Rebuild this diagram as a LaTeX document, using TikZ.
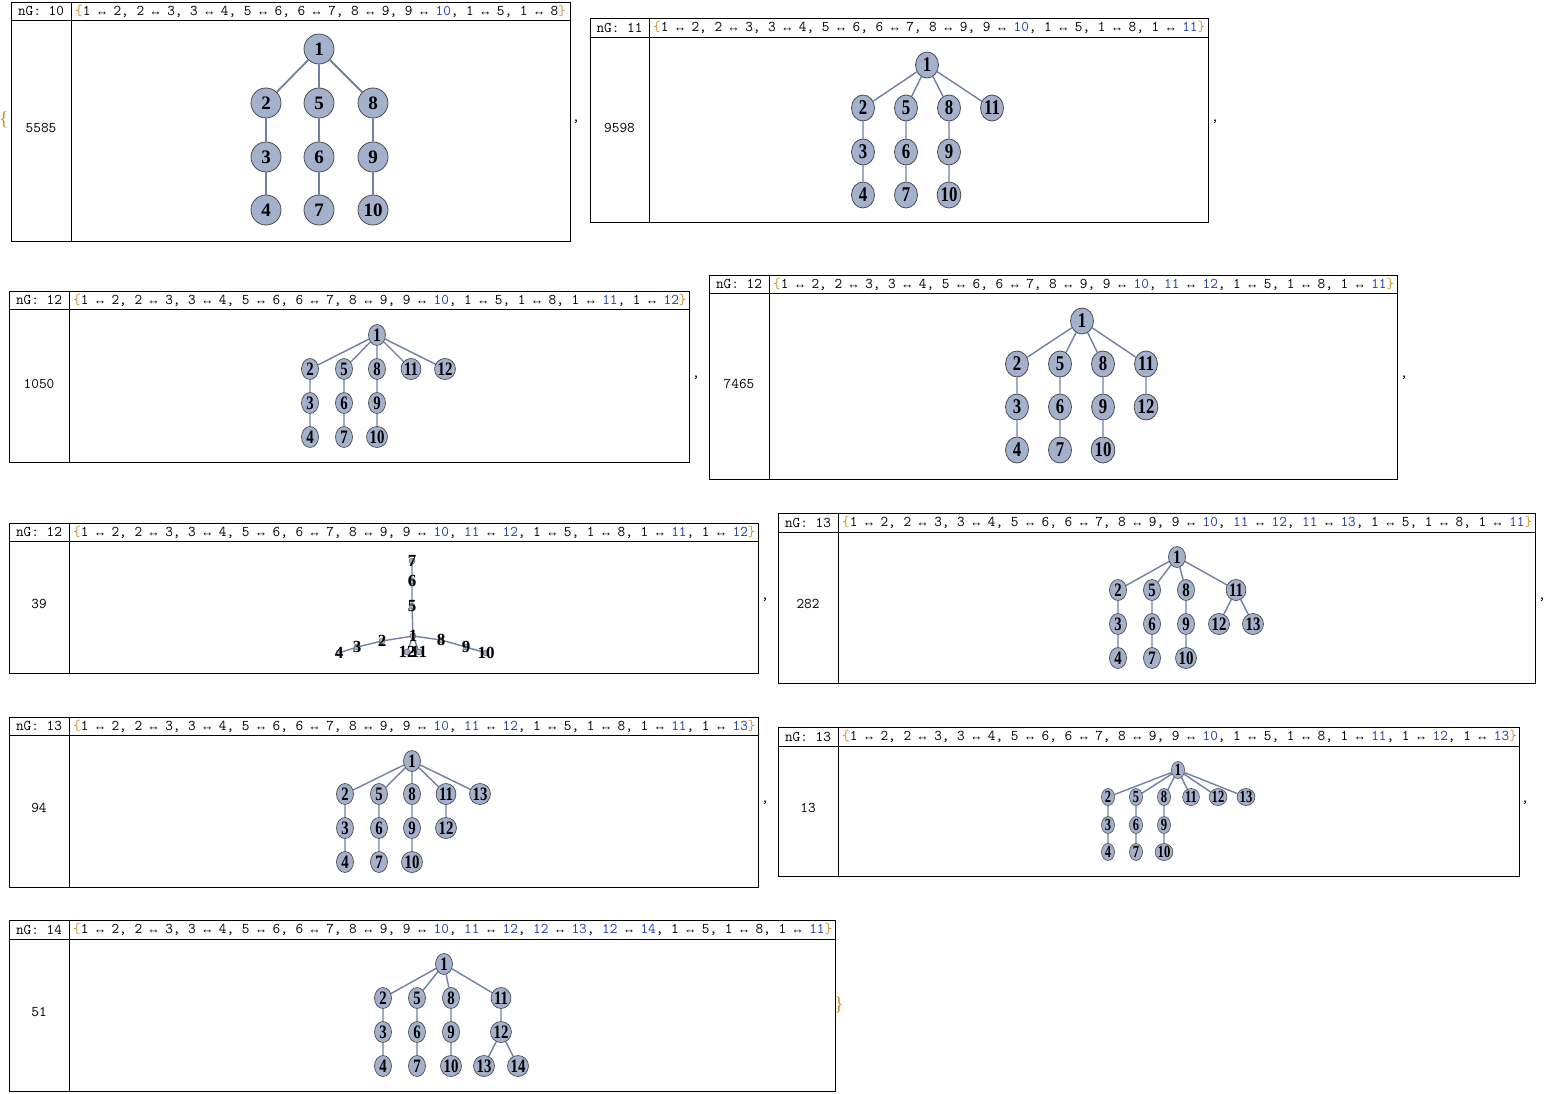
\documentclass[tikz,border=0pt]{standalone}
\usepackage{fontspec}
\usetikzlibrary{shapes.geometric,backgrounds}
\newfontfamily\arfont{Liberation Mono}
\newfontfamily\vfont{Liberation Serif}
\newfontfamily\vfontn[FakeStretch=0.8]{Liberation Serif}
\newfontfamily\vfontc[FakeStretch=0.78]{Liberation Serif}
\newfontfamily\vfonts[FakeStretch=0.74]{Liberation Serif}
\definecolor{vfill}{RGB}{163,177,204}
\definecolor{vline}{RGB}{75,75,75}
\definecolor{ecol}{RGB}{112,128,162}
\definecolor{numblue}{RGB}{35,60,165}
\definecolor{brace}{RGB}{205,145,45}
\newcommand\bl[1]{\textcolor{numblue}{#1}}
\newcommand\lb{\textcolor{brace}{\{}}
\newcommand\rb{\textcolor{brace}{\}}}
\newcommand\ar{\makebox[0.525em]{\arfont\fontsize{12.5}{12}\selectfont ↔}}

\begin{document}
\begin{tikzpicture}[x=1pt,y=-1pt,
frm/.style={draw=black,line width=0.8pt},
hdr/.style={font=\ttfamily\fontsize{14.85}{15}\selectfont,inner sep=0pt},
lst/.style={hdr,anchor=west},
vbig/.style={circle,draw=vline,fill=vfill,line width=0.8pt,minimum size=30pt,inner sep=0pt,font=\vfont\bfseries\fontsize{19}{19}\selectfont},
vmid/.style={ellipse,draw=vline,fill=vfill,line width=0.8pt,minimum width=23pt,minimum height=26pt,inner sep=0pt,font=\vfontn\bfseries\fontsize{21}{21}\selectfont},
vsml/.style={ellipse,draw=vline,fill=vfill,line width=0.7pt,minimum width=17pt,minimum height=21pt,inner sep=0pt,font=\vfontc\bfseries\fontsize{19}{19}\selectfont},
vtny/.style={ellipse,draw=vline,fill=vfill,line width=0.6pt,minimum width=13pt,minimum height=17pt,inner sep=0pt,font=\vfonts\bfseries\fontsize{17}{17}\selectfont},
vdot/.style={circle,draw=vline,fill=vfill,line width=0.4pt,minimum size=6pt,inner sep=0pt,
  label={[inner sep=0pt,font=\vfont\bfseries\fontsize{17}{17}\selectfont]center:#1}},
ed/.style={draw=ecol,line width=1.8pt},
edm/.style={draw=ecol,line width=1.4pt},
sep/.style={font=\ttfamily\fontsize{15}{15}\selectfont,inner sep=0pt}]
\useasboundingbox (0,0) rectangle (1547,1094);

% frames
\draw[frm] (11,2) rectangle (570,241) (11,20)--(570,20) (71,2)--(71,241);
\draw[frm] (590,18) rectangle (1208,222) (590,37)--(1208,37) (649,18)--(649,222);
\draw[frm] (9,291) rectangle (689,462) (9,309)--(689,309) (69,291)--(69,462);
\draw[frm] (709,275) rectangle (1397,479) (709,293)--(1397,293) (769,275)--(769,479);
\draw[frm] (9,523) rectangle (758,673) (9,541)--(758,541) (69,523)--(69,673);
\draw[frm] (778,513) rectangle (1535,683) (778,532)--(1535,532) (838,513)--(838,683);
\draw[frm] (9,717) rectangle (758,887) (9,735)--(758,735) (69,717)--(69,887);
\draw[frm] (778,727) rectangle (1519,876) (778,746)--(1519,746) (838,727)--(838,876);
\draw[frm] (9,920) rectangle (835,1091) (9,939)--(835,939) (69,920)--(69,1091);

% headers and counts
\node[hdr] (ng1) at (41,11) {nG: 10};
\node[lst] (el1) at (75,11) {\lb1 \ar{} 2, 2 \ar{} 3, 3 \ar{} 4, 5 \ar{} 6, 6 \ar{} 7, 8 \ar{} 9, 9 \ar{} \bl{10}, 1 \ar{} 5, 1 \ar{} 8\rb};
\node[hdr] (ct1) at (41,128) {5585};
\node[hdr] (ng2) at (619.5,27.5) {nG: 11};
\node[lst] (el2) at (653,27.5) {\lb1 \ar{} 2, 2 \ar{} 3, 3 \ar{} 4, 5 \ar{} 6, 6 \ar{} 7, 8 \ar{} 9, 9 \ar{} \bl{10}, 1 \ar{} 5, 1 \ar{} 8, 1 \ar{} \bl{11}\rb};
\node[hdr] (ct2) at (619.5,128) {9598};
\node[hdr] (ng3) at (39,300) {nG: 12};
\node[lst] (el3) at (73,300) {\lb1 \ar{} 2, 2 \ar{} 3, 3 \ar{} 4, 5 \ar{} 6, 6 \ar{} 7, 8 \ar{} 9, 9 \ar{} \bl{10}, 1 \ar{} 5, 1 \ar{} 8, 1 \ar{} \bl{11}, 1 \ar{} \bl{12}\rb};
\node[hdr] (ct3) at (39,384) {1050};
\node[hdr] (ng4) at (739,284) {nG: 12};
\node[lst] (el4) at (773,284) {\lb1 \ar{} 2, 2 \ar{} 3, 3 \ar{} 4, 5 \ar{} 6, 6 \ar{} 7, 8 \ar{} 9, 9 \ar{} \bl{10}, \bl{11} \ar{} \bl{12}, 1 \ar{} 5, 1 \ar{} 8, 1 \ar{} \bl{11}\rb};
\node[hdr] (ct4) at (739,384) {7465};
\node[hdr] (ng5) at (39,532) {nG: 12};
\node[lst] (el5) at (73,532) {\lb1 \ar{} 2, 2 \ar{} 3, 3 \ar{} 4, 5 \ar{} 6, 6 \ar{} 7, 8 \ar{} 9, 9 \ar{} \bl{10}, \bl{11} \ar{} \bl{12}, 1 \ar{} 5, 1 \ar{} 8, 1 \ar{} \bl{11}, 1 \ar{} \bl{12}\rb};
\node[hdr] (ct5) at (39,604) {39};
\node[hdr] (ng6) at (808,522.5) {nG: 13};
\node[lst] (el6) at (842,522.5) {\lb1 \ar{} 2, 2 \ar{} 3, 3 \ar{} 4, 5 \ar{} 6, 6 \ar{} 7, 8 \ar{} 9, 9 \ar{} \bl{10}, \bl{11} \ar{} \bl{12}, \bl{11} \ar{} \bl{13}, 1 \ar{} 5, 1 \ar{} 8, 1 \ar{} \bl{11}\rb};
\node[hdr] (ct6) at (808,604) {282};
\node[hdr] (ng7) at (39,726) {nG: 13};
\node[lst] (el7) at (73,726) {\lb1 \ar{} 2, 2 \ar{} 3, 3 \ar{} 4, 5 \ar{} 6, 6 \ar{} 7, 8 \ar{} 9, 9 \ar{} \bl{10}, \bl{11} \ar{} \bl{12}, 1 \ar{} 5, 1 \ar{} 8, 1 \ar{} \bl{11}, 1 \ar{} \bl{13}\rb};
\node[hdr] (ct7) at (39,808) {94};
\node[hdr] (ng8) at (808,736.5) {nG: 13};
\node[lst] (el8) at (842,736.5) {\lb1 \ar{} 2, 2 \ar{} 3, 3 \ar{} 4, 5 \ar{} 6, 6 \ar{} 7, 8 \ar{} 9, 9 \ar{} \bl{10}, 1 \ar{} 5, 1 \ar{} 8, 1 \ar{} \bl{11}, 1 \ar{} \bl{12}, 1 \ar{} \bl{13}\rb};
\node[hdr] (ct8) at (808,808) {13};
\node[hdr] (ng9) at (39,929.5) {nG: 14};
\node[lst] (el9) at (73,929.5) {\lb1 \ar{} 2, 2 \ar{} 3, 3 \ar{} 4, 5 \ar{} 6, 6 \ar{} 7, 8 \ar{} 9, 9 \ar{} \bl{10}, \bl{11} \ar{} \bl{12}, \bl{12} \ar{} \bl{13}, \bl{12} \ar{} \bl{14}, 1 \ar{} 5, 1 \ar{} 8, 1 \ar{} \bl{11}\rb};
\node[hdr] (ct9) at (39,1012) {51};

% outer list punctuation
\node[sep,text=brace,font=\vfont\fontsize{20}{20}\selectfont] (open) at (4,120) {\{};
\node[sep] (c1) at (576,122) {,};
\node[sep] (c2) at (1215,122) {,};
\node[sep] (c3) at (696,378) {,};
\node[sep] (c4) at (1404,378) {,};
\node[sep] (c5) at (765,600) {,};
\node[sep] (c6) at (1542,600) {,};
\node[sep] (c7) at (765,803) {,};
\node[sep] (c8) at (1525,803) {,};
\node[sep,text=brace,font=\vfont\fontsize{20}{20}\selectfont] (close) at (839,1005) {\}};

% graph 5585
\node[vbig] (A1) at (319,49) {1};
\node[vbig] (A2) at (266,103) {2}; \node[vbig] (A5) at (319,103) {5}; \node[vbig] (A8) at (373,103) {8};
\node[vbig] (A3) at (266,157) {3}; \node[vbig] (A6) at (319,157) {6}; \node[vbig] (A9) at (373,157) {9};
\node[vbig] (A4) at (266,210) {4}; \node[vbig] (A7) at (319,210) {7}; \node[vbig] (A10) at (373,210) {10};

% graph 9598
\node[vmid] (B1) at (927,65) {1};
\node[vmid] (B2) at (863,108) {2}; \node[vmid] (B5) at (906,108) {5}; \node[vmid] (B8) at (949,108) {8}; \node[vmid] (B11) at (992,108) {11};
\node[vmid] (B3) at (863,152) {3}; \node[vmid] (B6) at (906,152) {6}; \node[vmid] (B9) at (949,152) {9};
\node[vmid] (B4) at (863,195) {4}; \node[vmid] (B7) at (906,195) {7}; \node[vmid] (B10) at (949,195) {10};

% graph 1050
\node[vsml] (C1) at (377,335) {1};
\node[vsml] (C2) at (310,369) {2}; \node[vsml] (C5) at (344,369) {5}; \node[vsml] (C8) at (377,369) {8};
\node[vsml] (C11) at (411,369) {11}; \node[vsml] (C12) at (445,369) {12};
\node[vsml] (C3) at (310,403) {3}; \node[vsml] (C6) at (344,403) {6}; \node[vsml] (C9) at (377,403) {9};
\node[vsml] (C4) at (310,437) {4}; \node[vsml] (C7) at (344,437) {7}; \node[vsml] (C10) at (377,437) {10};

% graph 7465
\node[vmid] (D1) at (1082,321) {1};
\node[vmid] (D2) at (1017,364) {2}; \node[vmid] (D5) at (1060,364) {5}; \node[vmid] (D8) at (1103,364) {8}; \node[vmid] (D11) at (1146,364) {11};
\node[vmid] (D3) at (1017,407) {3}; \node[vmid] (D6) at (1060,407) {6}; \node[vmid] (D9) at (1103,407) {9}; \node[vmid] (D12) at (1146,407) {12};
\node[vmid] (D4) at (1017,450) {4}; \node[vmid] (D7) at (1060,450) {7}; \node[vmid] (D10) at (1103,450) {10};

% graph 39 (collapsed layout)
\node[vdot=7] (E7) at (412,561) {};
\node[vdot=6] (E6) at (412,581) {};
\node[vdot=5] (E5) at (412,606) {};
\node[vdot=1] (E1) at (413,636) {};
\node[vdot=2] (E2) at (382,641) {};
\node[vdot=3] (E3) at (357,647) {};
\node[vdot=4] (E4) at (339,653) {};
\node[vdot=8] (E8) at (441,640) {};
\node[vdot=9] (E9) at (466,647) {};
\node[vdot=10] (E10) at (486,653) {};
\node[vdot=12] (E12) at (407,652) {};
\node[vdot=11] (E11) at (419,652) {};

% graph 282
\node[vsml] (F1) at (1177,557) {1};
\node[vsml] (F2) at (1118,590) {2}; \node[vsml] (F5) at (1152,590) {5}; \node[vsml] (F8) at (1186,590) {8}; \node[vsml] (F11) at (1236,590) {11};
\node[vsml] (F3) at (1118,624) {3}; \node[vsml] (F6) at (1152,624) {6}; \node[vsml] (F9) at (1186,624) {9};
\node[vsml] (F12) at (1219,624) {12}; \node[vsml] (F13) at (1253,624) {13};
\node[vsml] (F4) at (1118,658) {4}; \node[vsml] (F7) at (1152,658) {7}; \node[vsml] (F10) at (1186,658) {10};

% graph 94
\node[vsml] (G1) at (412,761) {1};
\node[vsml] (G2) at (345,794) {2}; \node[vsml] (G5) at (379,794) {5}; \node[vsml] (G8) at (412,794) {8};
\node[vsml] (G11) at (446,794) {11}; \node[vsml] (G13) at (480,794) {13};
\node[vsml] (G3) at (345,828) {3}; \node[vsml] (G6) at (379,828) {6}; \node[vsml] (G9) at (412,828) {9}; \node[vsml] (G12) at (446,828) {12};
\node[vsml] (G4) at (345,862) {4}; \node[vsml] (G7) at (379,862) {7}; \node[vsml] (G10) at (412,862) {10};

% graph 13
\node[vtny] (H1) at (1178,770) {1};
\node[vtny] (H2) at (1108,797) {2}; \node[vtny] (H5) at (1136,797) {5}; \node[vtny] (H8) at (1164,797) {8};
\node[vtny] (H11) at (1191,797) {11}; \node[vtny] (H12) at (1218,797) {12}; \node[vtny] (H13) at (1246,797) {13};
\node[vtny] (H3) at (1108,825) {3}; \node[vtny] (H6) at (1136,825) {6}; \node[vtny] (H9) at (1164,825) {9};
\node[vtny] (H4) at (1108,852) {4}; \node[vtny] (H7) at (1136,852) {7}; \node[vtny] (H10) at (1164,852) {10};

% graph 51
\node[vsml] (I1) at (444,964) {1};
\node[vsml] (I2) at (383,998) {2}; \node[vsml] (I5) at (417,998) {5}; \node[vsml] (I8) at (451,998) {8}; \node[vsml] (I11) at (501,998) {11};
\node[vsml] (I3) at (383,1032) {3}; \node[vsml] (I6) at (417,1032) {6}; \node[vsml] (I9) at (451,1032) {9}; \node[vsml] (I12) at (501,1032) {12};
\node[vsml] (I4) at (383,1066) {4}; \node[vsml] (I7) at (417,1066) {7}; \node[vsml] (I10) at (451,1066) {10};
\node[vsml] (I13) at (484,1066) {13}; \node[vsml] (I14) at (518,1066) {14};

% edges
\begin{scope}[on background layer]
\draw[ed] (A1)--(A2)--(A3)--(A4) (A1)--(A5)--(A6)--(A7) (A1)--(A8)--(A9)--(A10);
\draw[edm] (B1)--(B2)--(B3)--(B4) (B1)--(B5)--(B6)--(B7) (B1)--(B8)--(B9)--(B10) (B1)--(B11);
\draw[edm] (C1)--(C2)--(C3)--(C4) (C1)--(C5)--(C6)--(C7) (C1)--(C8)--(C9)--(C10) (C1)--(C11) (C1)--(C12);
\draw[edm] (D1)--(D2)--(D3)--(D4) (D1)--(D5)--(D6)--(D7) (D1)--(D8)--(D9)--(D10) (D1)--(D11)--(D12);
\draw[edm] (E1.center)--(E2.center)--(E3.center)--(E4.center) (E1.center)--(E5.center)--(E6.center)--(E7.center)
  (E1.center)--(E8.center)--(E9.center)--(E10.center) (E1.center)--(E11.center)--(E12.center)--(E1.center);
\draw[edm] (F1)--(F2)--(F3)--(F4) (F1)--(F5)--(F6)--(F7) (F1)--(F8)--(F9)--(F10) (F1)--(F11)--(F12) (F11)--(F13);
\draw[edm] (G1)--(G2)--(G3)--(G4) (G1)--(G5)--(G6)--(G7) (G1)--(G8)--(G9)--(G10) (G1)--(G11)--(G12) (G1)--(G13);
\draw[edm] (H1)--(H2)--(H3)--(H4) (H1)--(H5)--(H6)--(H7) (H1)--(H8)--(H9)--(H10) (H1)--(H11) (H1)--(H12) (H1)--(H13);
\draw[edm] (I1)--(I2)--(I3)--(I4) (I1)--(I5)--(I6)--(I7) (I1)--(I8)--(I9)--(I10) (I1)--(I11)--(I12)--(I13) (I12)--(I14);
\end{scope}
\end{tikzpicture}
\end{document}
